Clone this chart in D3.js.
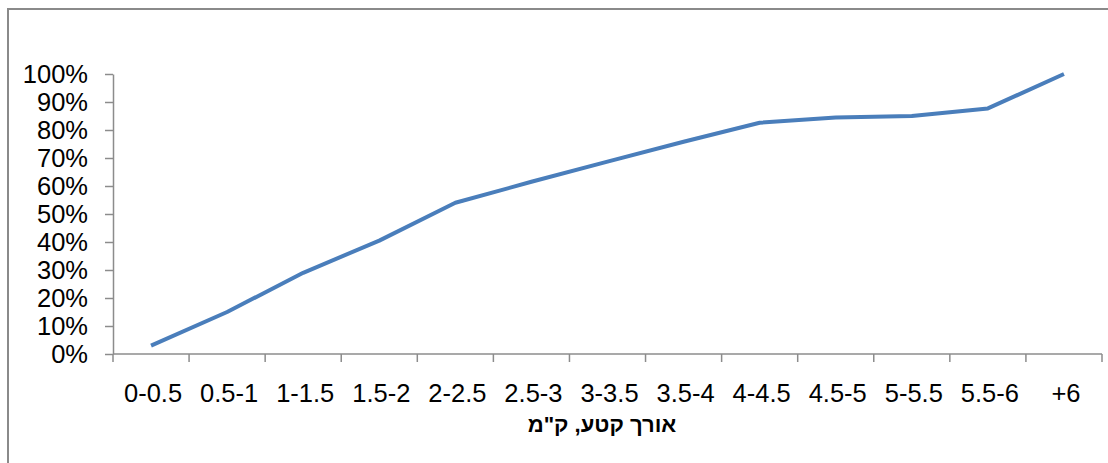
<!DOCTYPE html>
<html>
<head>
<meta charset="utf-8">
<script src="https://cdn.jsdelivr.net/npm/d3@7"></script>
<style>
  html, body { margin: 0; padding: 0; background: #fff; }
  svg { display: block; }
  .axis text { font-family: "Liberation Sans", Arial, "DejaVu Sans", sans-serif; font-size: 25.5px; fill: #000; }
  .axis path, .axis line { stroke: #8c8c8c; stroke-width: 1.5; }
</style>
</head>
<body>
<svg id="chart" width="1108" height="463"></svg>
<script>
// Segment length bands (km)
const categories = ["0-0.5", "0.5-1", "1-1.5", "1.5-2", "2-2.5", "2.5-3", "3-3.5", "3.5-4", "4-4.5", "4.5-5", "5-5.5", "5.5-6", "+6"];
// Cumulative share of segments, percent
const cumulativeShare = [3, 15, 29, 40.5, 54, 61.5, 68.7, 75.8, 82.6, 84.5, 85, 87.7, 100];
// Y-axis ticks, percent
const yTicks = [0, 10, 20, 30, 40, 50, 60, 70, 80, 90, 100];
const xTitle = "אורך קטע, ק\"מ";

const svg = d3.select("#chart");
const W = 1108, H = 463;
const margin = { left: 113, right: 6, top: 74, bottom: 109 };
const plotW = W - margin.left - margin.right;
const plotH = H - margin.top - margin.bottom;

// chart frame
svg.append("rect")
  .attr("x", 8).attr("y", 9)
  .attr("width", W + 20).attr("height", H + 20)
  .attr("fill", "none").attr("stroke", "#8a8a8a").attr("stroke-width", 2);

const g = svg.append("g").attr("transform", `translate(${margin.left},${margin.top})`);

const x = d3.scaleBand().domain(categories).range([0, plotW]);
const y = d3.scaleLinear().domain([0, 100]).range([plotH, 0]);

// Y axis
g.append("g").attr("class", "axis")
  .call(d3.axisLeft(y).tickValues(yTicks).tickFormat(d => d + "%").tickSize(8).tickPadding(17).tickSizeOuter(0));

// X axis with boundary ticks between categories
const xAxisG = g.append("g").attr("class", "axis").attr("transform", `translate(0,${plotH})`);
xAxisG.append("line").attr("x1", 0).attr("x2", plotW).attr("y1", 0).attr("y2", 0);
const bounds = categories.map(c => x(c)).concat([plotW]);
xAxisG.selectAll("line.tick").data(bounds).join("line")
  .attr("class", "tick")
  .attr("x1", d => d).attr("x2", d => d)
  .attr("y1", 0).attr("y2", 8);
xAxisG.selectAll("text").data(categories).join("text")
  .attr("x", d => x(d) + x.bandwidth() / 2 + 2)
  .attr("y", 30)
  .attr("dy", "0.71em")
  .attr("text-anchor", "middle")
  .text(d => d);

// Axis title
svg.append("text")
  .attr("x", 602).attr("y", 432)
  .attr("text-anchor", "middle")
  .attr("direction", "rtl")
  .attr("font-family", "\"Liberation Sans\", Arial, \"DejaVu Sans\", sans-serif")
  .attr("font-weight", "bold")
  .attr("font-size", 22)
  .attr("fill", "#000")
  .text(xTitle);

// Cumulative line
const line = d3.line()
  .x((d, i) => x(categories[i]) + x.bandwidth() / 2)
  .y(d => y(d));
g.append("path")
  .datum(cumulativeShare)
  .attr("d", line)
  .attr("fill", "none")
  .attr("stroke", "#4a7ebb")
  .attr("stroke-width", 4)
  .attr("stroke-linejoin", "round")
  .attr("stroke-linecap", "butt");
</script>
</body>
</html>
